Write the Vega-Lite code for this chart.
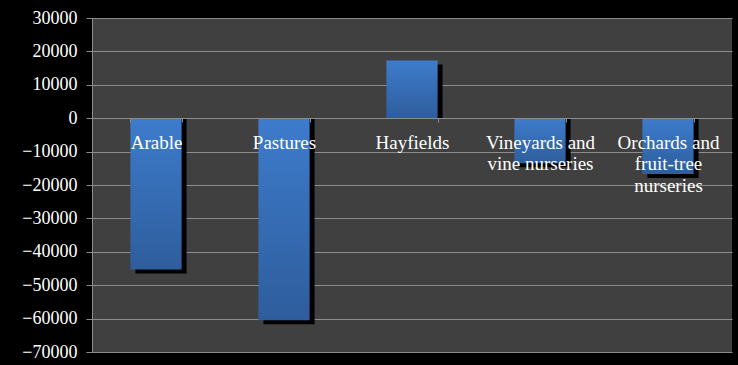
{
  "$schema": "https://vega.github.io/schema/vega-lite/v6.json",
  "autosize": {"type": "none"},
  "width": 640,
  "height": 334,
  "padding": {"left": 92, "top": 18, "right": 6, "bottom": 13},
  "background": "#000000",
  "config": {
    "view": {"fill": "#404040", "stroke": null},
    "font": "Liberation Serif"
  },
  "data": {
    "values": [
      {"land": "Arable", "change": -45300},
      {"land": "Pastures", "change": -60500},
      {"land": "Hayfields", "change": 17300},
      {"land": "Vineyards and\nvine nurseries", "change": -13500},
      {"land": "Orchards and\nfruit-tree\nnurseries", "change": -16700}
    ]
  },
  "encoding": {
    "x": {
      "field": "land",
      "type": "nominal",
      "sort": null,
      "scale": {"paddingInner": 0.6, "paddingOuter": 0.3},
      "axis": {
        "title": null,
        "orient": "bottom",
        "offset": -234,
        "zindex": 1,
        "labelAngle": 0,
        "labelExpr": "split(datum.label, '\\n')",
        "labelFont": "Liberation Serif",
        "labelFontSize": 19,
        "labelLineHeight": 21.5,
        "labelColor": "#ffffff",
        "labelBaseline": "top",
        "labelPadding": 11,
        "labelLimit": 0,
        "tickBand": "extent",
        "tickSize": 4,
        "tickColor": "#8c8c8c",
        "domainColor": "#8c8c8c",
        "grid": false
      }
    },
    "y": {
      "field": "change",
      "type": "quantitative",
      "scale": {"domain": [-70000, 30000], "nice": false, "zero": false},
      "axis": {
        "title": null,
        "values": [-70000, -60000, -50000, -40000, -30000, -20000, -10000, 0, 10000, 20000, 30000],
        "format": "d",
        "labelFont": "Liberation Serif",
        "labelFontSize": 18,
        "labelColor": "#ffffff",
        "labelPadding": 9,
        "tickSize": 6,
        "tickColor": "#8c8c8c",
        "domainColor": "#8c8c8c",
        "gridColor": "#8c8c8c",
        "gridOpacity": 1,
        "gridWidth": 1
      }
    },
    "y2": {"datum": 0}
  },
  "layer": [
    {
      "mark": {"type": "bar", "color": "#000000", "xOffset": 5, "yOffset": 4}
    },
    {
      "mark": {
        "type": "bar",
        "color": {
          "gradient": "linear",
          "x1": 0, "y1": 0, "x2": 0, "y2": 1,
          "stops": [
            {"offset": 0, "color": "#3d7ccc"},
            {"offset": 1, "color": "#2e5d9c"}
          ]
        }
      }
    }
  ]
}
